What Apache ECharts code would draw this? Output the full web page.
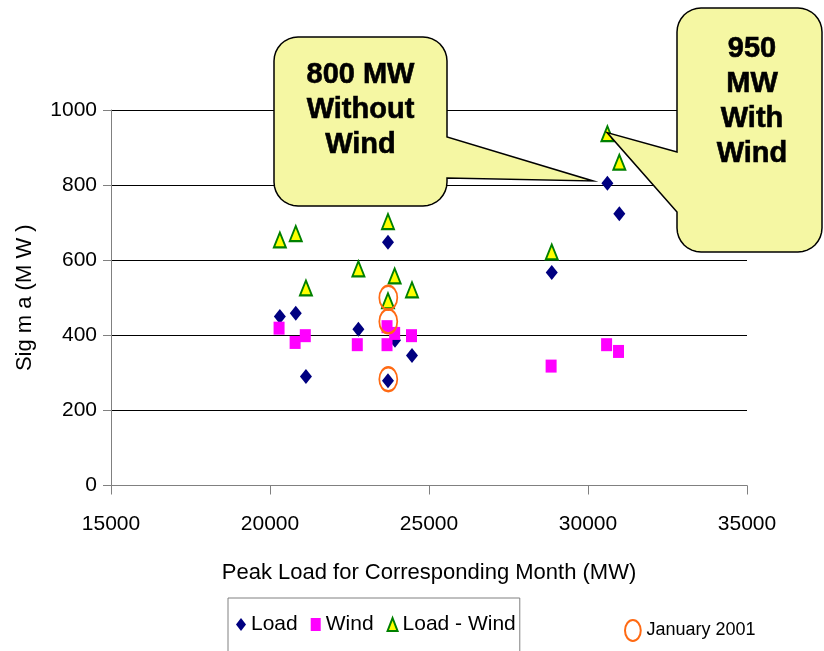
<!DOCTYPE html>
<html>
<head>
<meta charset="utf-8">
<script src="https://cdn.jsdelivr.net/npm/echarts@6/dist/echarts.min.js"></script>
<style>
html,body{margin:0;padding:0;background:#fff;}
#chart{width:824px;height:651px;}
</style>
</head>
<body>
<div id="chart"></div>
<script>
// ---- data ----
var seriesNames = ['Load', 'Wind', 'Load - Wind', 'January 2001'];
var loadData = [[20310,450],[20810,459],[21130,290],[22780,416],[23710,648],[23710,279],[23930,387],[24465,346],[28860,567],[30610,805],[30985,724]];
var windData = [[20285,419],[20790,381],[21110,399],[22745,375],[23680,423],[23680,375],[23920,405],[24450,399],[28840,318],[30585,375],[30960,357]];
var loadWindData = [[20310,654],[20810,671],[21130,526],[22780,577],[23710,703],[23710,492],[23920,558],[24465,521],[28860,622],[30610,937],[30985,861]];
var januaryData = [[23720,500],[23720,437],[23720,283]];
var xTicks = {min:15000, max:35000, interval:5000};
var yTicks = {min:0, max:1000, interval:200};
var callout1 = {text:'800 MW\nWithout\nWind', tip:[30160, 811]};
var callout2 = {text:'950\nMW\nWith\nWind', tip:[30600, 940]};

var FONT = "'Liberation Sans', Arial, sans-serif";
var chart = echarts.init(document.getElementById('chart'), null, {renderer:'canvas'});
var ellipse = 'path://M0,12 A9,12 0 1,1 18,12 A9,12 0 1,1 0,12 Z';

var option = {
  animation:false,
  backgroundColor:'#fff',
  textStyle:{fontFamily:FONT},
  grid:{left:111, right:77, top:110, bottom:165.5, containLabel:false},
  xAxis:{
    type:'value', min:xTicks.min, max:xTicks.max, interval:xTicks.interval,
    name:'Peak Load for Corresponding Month (MW)', nameLocation:'middle', nameGap:76,
    nameTextStyle:{fontSize:22, color:'#000', fontFamily:FONT},
    axisLine:{show:true, lineStyle:{color:'#808080', width:1}},
    axisTick:{show:true, length:9, lineStyle:{color:'#808080'}},
    axisLabel:{fontSize:21, color:'#000', margin:28, fontFamily:FONT, formatter:function(v){return String(v);}},
    splitLine:{show:false}
  },
  yAxis:{
    type:'value', min:yTicks.min, max:yTicks.max, interval:yTicks.interval,
    name:'Sig m a (M W )', nameLocation:'middle', nameGap:75,
    nameTextStyle:{fontSize:22, color:'#000', fontFamily:FONT},
    axisLine:{show:true, lineStyle:{color:'#808080', width:1}},
    axisTick:{show:true, length:8, lineStyle:{color:'#808080'}},
    axisLabel:{fontSize:21, color:'#000', margin:14, fontFamily:FONT, formatter:function(v){return String(v);}},
    splitLine:{show:true, lineStyle:{color:'#000', width:1}}
  },
  legend:[{
    data:[seriesNames[0], seriesNames[1], seriesNames[2]],
    left:228, top:598, orient:'horizontal',
    borderColor:'#808080', borderWidth:1, padding:[16, 4, 40, 8],
    itemGap:13, itemWidth:10, itemHeight:13,
    textStyle:{fontSize:21, color:'#000', fontFamily:FONT},
    selectedMode:false
  },{
    data:[seriesNames[3]],
    left:624, top:619, itemWidth:17, itemHeight:21, padding:0,
    textStyle:{fontSize:18, color:'#000', fontFamily:FONT},
    selectedMode:false
  }],
  series:[
    {name:seriesNames[0], type:'scatter', data:loadData, symbol:'diamond', symbolSize:[12,15],
      itemStyle:{color:'#000080', opacity:1}, z:2},
    {name:seriesNames[1], type:'scatter', data:windData, symbol:'rect', symbolSize:[11,13],
      itemStyle:{color:'#FF00FF', opacity:1}, z:3},
    {name:seriesNames[2], type:'scatter', data:loadWindData, symbol:'triangle', symbolSize:[12,15],
      itemStyle:{color:'#FFFF00', borderColor:'#008000', borderWidth:2, opacity:1}, z:4},
    {name:seriesNames[3], type:'scatter', data:januaryData, symbol:ellipse, symbolSize:[18,24],
      itemStyle:{color:'rgba(0,0,0,0)', borderColor:'#FF6A13', borderWidth:2, opacity:1}, z:5}
  ]
};
chart.setOption(option);

function arcPts(cx, cy, r, a0, a1) {
  var pts = [], n = 8;
  for (var i = 0; i <= n; i++) {
    var a = a0 + (a1 - a0) * i / n;
    pts.push([cx + r * Math.cos(a), cy + r * Math.sin(a)]);
  }
  return pts;
}
function calloutPoints(box, tip, side, y1, y2, r) {
  var L=box[0], T=box[1], R=box[2], B=box[3], P=Math.PI;
  var pts = [];
  pts = pts.concat(arcPts(R - r, T + r, r, -P/2, 0));
  if (side === 'right') { pts.push([R, y1], tip, [R, y2]); }
  pts = pts.concat(arcPts(R - r, B - r, r, 0, P/2));
  pts = pts.concat(arcPts(L + r, B - r, r, P/2, P));
  if (side === 'left') { pts.push([L, y2], tip, [L, y1]); }
  pts = pts.concat(arcPts(L + r, T + r, r, P, 1.5 * P));
  return pts;
}

var t1 = chart.convertToPixel({gridIndex:0}, callout1.tip);
var t2 = chart.convertToPixel({gridIndex:0}, callout2.tip);
var fill = '#F5F7A3';
chart.setOption({
  graphic:[
    {type:'polygon', z:100, shape:{points:calloutPoints([274,37,447,206], t1, 'right', 137, 178, 24)},
      style:{fill:fill, stroke:'#000', lineWidth:1.5}},
    {type:'text', z:101, x:360.5, y:57, style:{text:callout1.text, fill:'#000', stroke:'#000', lineWidth:0.6,
      font:'bold 29px ' + FONT, textAlign:'center', textVerticalAlign:'top', lineHeight:35}},
    {type:'polygon', z:100, shape:{points:calloutPoints([677,8,822,252], t2, 'left', 152, 212, 24)},
      style:{fill:fill, stroke:'#000', lineWidth:1.5}},
    {type:'text', z:101, x:752, y:31, style:{text:callout2.text, fill:'#000', stroke:'#000', lineWidth:0.6,
      font:'bold 29px ' + FONT, textAlign:'center', textVerticalAlign:'top', lineHeight:35}}
  ]
});
</script>
</body>
</html>
